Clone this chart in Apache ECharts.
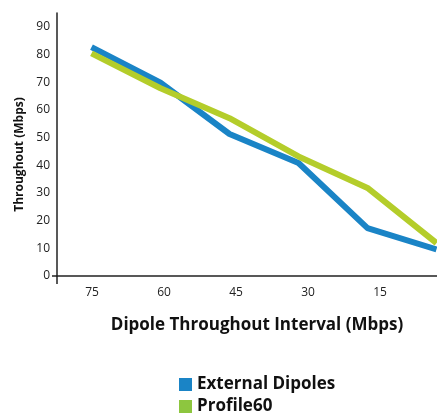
<!DOCTYPE html>
<html><head><meta charset="utf-8">
<script src="https://cdn.jsdelivr.net/npm/echarts@6/dist/echarts.min.js"></script>
<style>html,body{margin:0;padding:0;background:#fff}#c{width:437px;height:413px}</style>
</head><body><div id="c"></div>
<script>
const categories = ['75', '60', '45', '30', '15', ''];
const tickLabels = ['75', '60', '45', '30', '15'];
const externalDipoles = [82.7, 69.8, 51.3, 40.8, 17.3, 9.6];
const profile60 = [80.4, 67.8, 57.0, 43.2, 31.8, 11.9];
const seriesNames = ['External Dipoles', 'Profile60'];

const chart = echarts.init(document.getElementById('c'), null, {renderer: 'canvas'});
const FONT = '"Open Sans", "DejaVu Sans", sans-serif';
const legendText = {color: '#111', fontSize: 17, fontWeight: 'bold', fontFamily: FONT};
chart.setOption({
  animation: false,
  backgroundColor: '#fff',
  grid: [
    {left: 57, top: 13, right: -34, bottom: 137, containLabel: false, outerBoundsMode: 'none'},
    {left: 56, top: 13, width: 360, bottom: 137, containLabel: false, outerBoundsMode: 'none'}
  ],
  xAxis: [{
    type: 'category',
    gridIndex: 0,
    data: categories,
    boundaryGap: true,
    axisLine: {lineStyle: {color: '#222', width: 1.5}},
    axisTick: {show: true, length: 8, interval: function (i) { return i === 0; },
               lineStyle: {color: '#222', width: 1.5}},
    axisLabel: {show: false},
    name: 'Dipole Throughout Interval (Mbps)',
    nameLocation: 'middle',
    nameGap: 41,
    nameTextStyle: {color: '#111', fontSize: 17, fontWeight: 'bold', fontFamily: FONT, padding: [0, 14, 0, 0]}
  }, {
    type: 'category',
    gridIndex: 1,
    data: tickLabels,
    boundaryGap: true,
    axisLine: {show: false},
    axisTick: {show: false},
    axisLabel: {color: '#222', fontSize: 12, fontFamily: FONT, margin: 11}
  }],
  yAxis: [{
    type: 'value',
    gridIndex: 0,
    min: 0, max: 95, interval: 10,
    splitLine: {show: false},
    axisLine: {show: true, lineStyle: {color: '#222', width: 1.5}},
    axisTick: {show: true, length: 5, customValues: [0], lineStyle: {color: '#222', width: 1.5}},
    axisLabel: {color: '#222', fontSize: 12, fontFamily: FONT, margin: 7, showMaxLabel: false},
    name: 'Throughout (Mbps)',
    nameLocation: 'middle',
    nameGap: 31,
    nameRotate: 90,
    nameTextStyle: {color: '#111', fontSize: 12, fontWeight: 'bold', fontFamily: FONT, padding: [0, 20, 0, 0]}
  }, {
    type: 'value',
    gridIndex: 1,
    show: false
  }],
  legend: [
    {left: 174, top: 371, itemWidth: 13, itemHeight: 13, icon: 'rect', itemGap: 6,
     textStyle: legendText,
     data: [{name: seriesNames[0], itemStyle: {color: '#1a84c6'}}]},
    {left: 174, top: 393, itemWidth: 13, itemHeight: 13, icon: 'rect', itemGap: 6,
     textStyle: legendText,
     data: [{name: seriesNames[1], itemStyle: {color: '#8dc63f'}}]}
  ],
  series: [
    {name: seriesNames[0], type: 'line', data: externalDipoles, symbol: 'none',
     lineStyle: {color: '#1a84c6', width: 6}, itemStyle: {color: '#1a84c6'}},
    {name: seriesNames[1], type: 'line', data: profile60, symbol: 'none',
     lineStyle: {color: '#b4cd2a', width: 6}, itemStyle: {color: '#b4cd2a'}}
  ]
});
</script></body></html>
